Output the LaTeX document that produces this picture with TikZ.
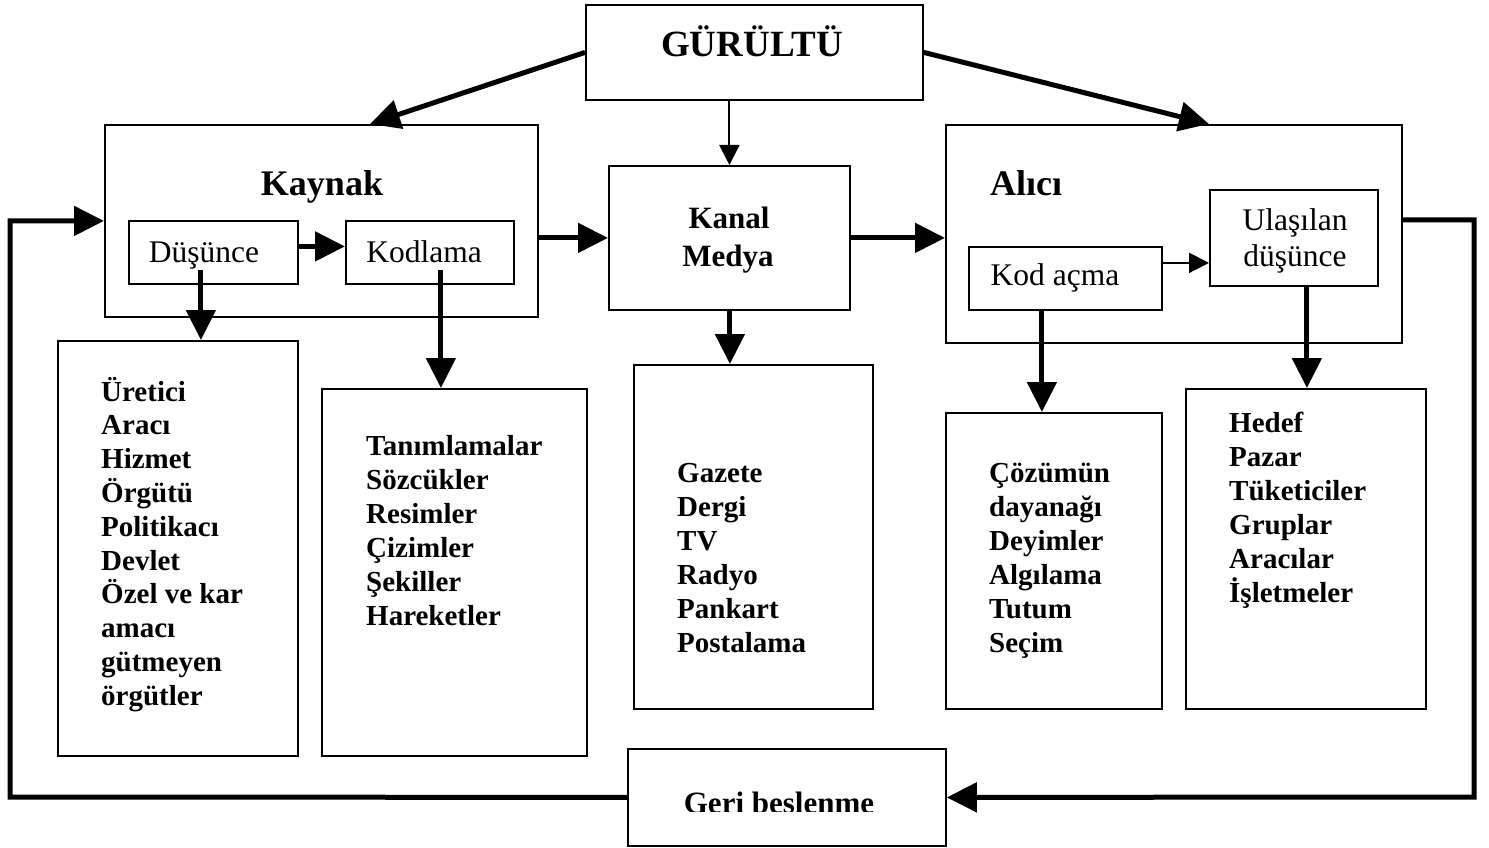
\documentclass[tikz,border=0pt]{standalone}
\usepackage{fontspec}
\setmainfont{Liberation Serif}
\usetikzlibrary{arrows.meta}

\tikzset{
  boxst/.style={draw, line width=1.8pt, inner sep=0pt, anchor=north west, fill=white},
  label/.style={inner sep=0pt, anchor=base},
  item/.style={inner sep=0pt, anchor=base west, font=\fontsize{29}{34}\selectfont\bfseries},
  titlefont/.style={font=\fontsize{36}{40}\selectfont\bfseries},
  plainfont/.style={font=\fontsize{31.5}{36}\selectfont},
  medfont/.style={font=\fontsize{31}{36}\selectfont\bfseries},
  bigarr/.style={line width=5pt, -{Triangle[length=30pt,width=29pt]}},
  thinarr/.style={line width=2pt, -{Triangle[length=20pt,width=20pt]}},
  fbline/.style={line width=5pt, line join=miter},
}

\begin{document}
\begin{tikzpicture}[x=1pt, y=-1pt]
\useasboundingbox (0,0) rectangle (1489,848);

% ---- boxes ----
\node[boxst, minimum width=337pt, minimum height=95pt] (gurultu) at (585,4) {};
\node[boxst, minimum width=433pt, minimum height=192pt] (kaynak) at (104,124) {};
\node[boxst, minimum width=169pt, minimum height=63pt] (dusunce) at (128,220) {};
\node[boxst, minimum width=168pt, minimum height=63pt] (kodlama) at (345,220) {};
\node[boxst, minimum width=241pt, minimum height=144pt] (kanal) at (608,165) {};
\node[boxst, minimum width=456pt, minimum height=218pt] (alici) at (945,124) {};
\node[boxst, minimum width=193pt, minimum height=63pt] (kodacma) at (968,246) {};
\node[boxst, minimum width=168pt, minimum height=96pt] (ulasilan) at (1209,189) {};

\node[boxst, minimum width=240pt, minimum height=415pt] (liste1) at (57,340) {};
\node[boxst, minimum width=265pt, minimum height=367pt] (liste2) at (321,388) {};
\node[boxst, minimum width=239pt, minimum height=344pt] (liste3) at (633,364) {};
\node[boxst, minimum width=216pt, minimum height=296pt] (liste4) at (945,412) {};
\node[boxst, minimum width=240pt, minimum height=320pt] (liste5) at (1185,388) {};
\node[boxst, minimum width=318pt, minimum height=97pt] (geri) at (627,748) {};

% ---- box titles ----
\node[label, font=\fontsize{37}{40}\selectfont\bfseries] (gurultutxt) at (752,57) {GÜRÜLTÜ};
\node[label, titlefont] (kaynaktxt) at (322,195) {Kaynak};
\node[label, titlefont] (alicitxt) at (1026,195) {Alıcı};
\node[label, plainfont] (dusuncetxt) at (204,262) {Düşünce};
\node[label, plainfont] (kodlamatxt) at (424,262) {Kodlama};
\node[label, medfont] (kanaltxt1) at (729,228) {Kanal};
\node[label, medfont] (kanaltxt2) at (728,266) {Medya};
\node[label, plainfont] (kodacmatxt) at (1055,285) {Kod açma};
\node[label, plainfont] (ulasilantxt1) at (1295,230) {Ulaşılan};
\node[label, plainfont] (ulasilantxt2) at (1295,266) {düşünce};

% the feedback caption sits low in its box and is cut at the bottom
\begin{scope}
  \clip (627,748) rectangle (945,811);
  \node[label, medfont] (geritxt) at (779,813) {Geri beslenme};
\end{scope}

% ---- lists ----
\foreach \t [count=\i] in {Üretici, Aracı, Hizmet, Örgütü, Politikacı, Devlet,
    Özel ve kar, amacı, gütmeyen, örgütler}
  \node[item] (l1-\i) at (101,{401+33.8*(\i-1)}) {\t};
\foreach \t [count=\i] in {Tanımlamalar, Sözcükler, Resimler, Çizimler, Şekiller, Hareketler}
  \node[item] (l2-\i) at (366,{455+34*(\i-1)}) {\t};
\foreach \t [count=\i] in {Gazete, Dergi, TV, Radyo, Pankart, Postalama}
  \node[item] (l3-\i) at (677,{482+34*(\i-1)}) {\t};
\foreach \t [count=\i] in {Çözümün, dayanağı, Deyimler, Algılama, Tutum, Seçim}
  \node[item] (l4-\i) at (989,{482+34*(\i-1)}) {\t};
\foreach \t [count=\i] in {Hedef, Pazar, Tüketiciler, Gruplar, Aracılar, İşletmeler}
  \node[item] (l5-\i) at (1229,{432+34*(\i-1)}) {\t};

% ---- noise arrows ----
\draw[bigarr] (gurultu.west) -- ([xshift=266pt]kaynak.north west);
\draw[bigarr] (gurultu.east) -- ([xshift=264pt]alici.north west);
\draw[thinarr] (kanal.north |- gurultu.south) -- (kanal.north);

% ---- main flow ----
\draw[bigarr] (kaynak.east |- kanal.west) -- (kanal.west);
\draw[bigarr] (kanal.east) -- (kanal.east -| alici.west);
\draw[bigarr] ([yshift=6pt]dusunce.east) -- ([yshift=6pt]dusunce.east -| kodlama.west);
\draw[thinarr] ([yshift=15.5pt]kodacma.east) -- ([yshift=15.5pt]kodacma.east -| ulasilan.west);

% ---- downward arrows to the lists ----
\draw[bigarr] ([xshift=-12.5pt,yshift=15pt]dusunce.south) -- ([xshift=-12.5pt]dusunce.south |- liste1.north);
\draw[bigarr] ([xshift=11pt,yshift=15pt]kodlama.south) -- ([xshift=11pt]kodlama.south |- liste2.north);
\draw[bigarr] ([xshift=0.5pt]kanal.south) -- ([xshift=0.5pt]kanal.south |- liste3.north);
\draw[bigarr] ([xshift=-23.5pt]kodacma.south) -- ([xshift=-23.5pt]kodacma.south |- liste4.north);
\draw[bigarr] ([xshift=13pt]ulasilan.south) -- ([xshift=13pt]ulasilan.south |- liste5.north);

% ---- feedback loop ----
\coordinate (fbR) at (1474,797);
\coordinate (fbL) at (10,797);
\draw[fbline, -{Triangle[length=30pt,width=29pt]}] ([yshift=14pt]alici.east) -| (fbR) -- (geri.east);
\draw[fbline, -{Triangle[length=30pt,width=29pt]}] (geri.west) -- (fbL) |- (kaynak.west);
\end{tikzpicture}
\end{document}
